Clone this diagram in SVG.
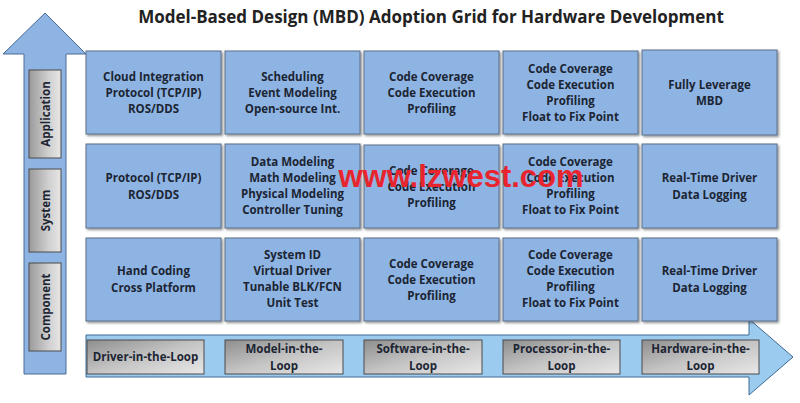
<svg xmlns="http://www.w3.org/2000/svg" width="800" height="403" viewBox="0 0 800 403">
<defs>
<linearGradient id="gh" x1="0" y1="0" x2="1" y2="1">
<stop offset="0" stop-color="#8e8e8e"/>
<stop offset="0.5" stop-color="#c4c4c4"/>
<stop offset="1" stop-color="#e8e8e8"/>
</linearGradient>
<linearGradient id="gv" x1="0" y1="0" x2="1" y2="0">
<stop offset="0" stop-color="#9a9a9a"/>
<stop offset="0.6" stop-color="#cfcfcf"/>
<stop offset="1" stop-color="#e6e6e6"/>
</linearGradient>
<filter id="sh" x="-10%" y="-10%" width="120%" height="130%">
<feDropShadow dx="1.5" dy="1.5" stdDeviation="1" flood-color="#000" flood-opacity="0.45"/>
</filter>
</defs>
<style>
.cell{fill:#8eb4e3;stroke:#5a6f88;stroke-width:1;filter:url(#sh)}
.lab{fill:url(#gh);stroke:#4a4a4a;stroke-width:1}
.vlab{fill:url(#gv);stroke:#4a4a4a;stroke-width:1}
text{font-family:"Open Sans","Liberation Sans",sans-serif;font-weight:700;fill:#1c2533;text-anchor:middle}
.t{font-size:11.5px}
.title{font-size:17px;fill:#222}
.wm{font-family:"Liberation Sans",Arial,sans-serif;font-size:31px;fill:#e8252e}
</style>
<rect width="800" height="403" fill="#fff"/>
<text class="title" x="431" y="23">Model-Based Design (MBD) Adoption Grid for Hardware Development</text>
<g id="connectors">
<polygon id="arrow-up" points="45,13 86,54 66,54 66,374 24,374 24,54 3,54" fill="#8eb4e3" stroke="#4a6b96" stroke-width="1"/>
<polygon id="arrow-right" points="86,335 749,335 749,319 793,357 749,395 749,377 86,377" fill="#9ccbf0" stroke="#3f6a92" stroke-width="1"/>
</g>
<g id="axis-application"><rect class="vlab" x="29" y="70" width="32" height="88"/><text class="t" transform="translate(49.5,114) rotate(-90)">Application</text></g>
<g id="axis-system"><rect class="vlab" x="29" y="169" width="32" height="83"/><text class="t" transform="translate(49.5,210.5) rotate(-90)">System</text></g>
<g id="axis-component"><rect class="vlab" x="29" y="263" width="32" height="88"/><text class="t" transform="translate(49.5,307) rotate(-90)">Component</text></g>

<g id="r1c1"><rect class="cell" x="86" y="51" width="135" height="83"/><text class="t"><tspan x="153.5" y="81">Cloud Integration</tspan><tspan x="153.5" y="97">Protocol (TCP/IP)</tspan><tspan x="153.5" y="113">ROS/DDS</tspan></text></g>
<g id="r1c2"><rect class="cell" x="225" y="51" width="135" height="83"/><text class="t"><tspan x="292.5" y="81">Scheduling</tspan><tspan x="292.5" y="97">Event Modeling</tspan><tspan x="292.5" y="113">Open-source Int.</tspan></text></g>
<g id="r1c3"><rect class="cell" x="364" y="51" width="135" height="83"/><text class="t"><tspan x="431.5" y="81">Code Coverage</tspan><tspan x="431.5" y="97">Code Execution</tspan><tspan x="431.5" y="113">Profiling</tspan></text></g>
<g id="r1c4"><rect class="cell" x="503" y="51" width="135" height="83"/><text class="t"><tspan x="570.5" y="73">Code Coverage</tspan><tspan x="570.5" y="89">Code Execution</tspan><tspan x="570.5" y="105">Profiling</tspan><tspan x="570.5" y="121">Float to Fix Point</tspan></text></g>
<g id="r1c5"><rect class="cell" x="642" y="50" width="135" height="85"/><text class="t"><tspan x="709.5" y="89">Fully Leverage</tspan><tspan x="709.5" y="105">MBD</tspan></text></g>

<g id="r2c1"><rect class="cell" x="86" y="144" width="135" height="84"/><text class="t"><tspan x="153.5" y="182">Protocol (TCP/IP)</tspan><tspan x="153.5" y="199">ROS/DDS</tspan></text></g>
<g id="r2c2"><rect class="cell" x="225" y="144" width="135" height="84"/><text class="t"><tspan x="292.5" y="166">Data Modeling</tspan><tspan x="292.5" y="182">Math Modeling</tspan><tspan x="292.5" y="198">Physical Modeling</tspan><tspan x="292.5" y="214">Controller Tuning</tspan></text></g>
<g id="r2c3"><rect class="cell" x="364" y="145" width="135" height="83"/><text class="t"><tspan x="431.5" y="175">Code Coverage</tspan><tspan x="431.5" y="191">Code Execution</tspan><tspan x="431.5" y="207">Profiling</tspan></text></g>
<g id="r2c4"><rect class="cell" x="503" y="144" width="135" height="84"/><text class="t"><tspan x="570.5" y="166">Code Coverage</tspan><tspan x="570.5" y="182">Code Execution</tspan><tspan x="570.5" y="198">Profiling</tspan><tspan x="570.5" y="214">Float to Fix Point</tspan></text></g>
<g id="r2c5"><rect class="cell" x="642" y="144" width="135" height="84"/><text class="t"><tspan x="709.5" y="182">Real-Time Driver</tspan><tspan x="709.5" y="199">Data Logging</tspan></text></g>

<g id="r3c1"><rect class="cell" x="86" y="238" width="135" height="83"/><text class="t"><tspan x="153.5" y="275">Hand Coding</tspan><tspan x="153.5" y="292">Cross Platform</tspan></text></g>
<g id="r3c2"><rect class="cell" x="225" y="238" width="135" height="83"/><text class="t"><tspan x="292.5" y="259">System ID</tspan><tspan x="292.5" y="275">Virtual Driver</tspan><tspan x="292.5" y="291">Tunable BLK/FCN</tspan><tspan x="292.5" y="307">Unit Test</tspan></text></g>
<g id="r3c3"><rect class="cell" x="364" y="238" width="135" height="83"/><text class="t"><tspan x="431.5" y="268">Code Coverage</tspan><tspan x="431.5" y="284">Code Execution</tspan><tspan x="431.5" y="300">Profiling</tspan></text></g>
<g id="r3c4"><rect class="cell" x="503" y="238" width="135" height="83"/><text class="t"><tspan x="570.5" y="259">Code Coverage</tspan><tspan x="570.5" y="275">Code Execution</tspan><tspan x="570.5" y="291">Profiling</tspan><tspan x="570.5" y="307">Float to Fix Point</tspan></text></g>
<g id="r3c5"><rect class="cell" x="642" y="238" width="135" height="83"/><text class="t"><tspan x="709.5" y="275">Real-Time Driver</tspan><tspan x="709.5" y="292">Data Logging</tspan></text></g>

<g id="stage-dil"><rect class="lab" x="87" y="340" width="117" height="34"/><text class="t" x="145.5" y="361">Driver-in-the-Loop</text></g>
<g id="stage-mil"><rect class="lab" x="225" y="340" width="118" height="34"/><text class="t"><tspan x="284" y="353">Model-in-the-</tspan><tspan x="284" y="370">Loop</tspan></text></g>
<g id="stage-sil"><rect class="lab" x="364" y="340" width="118" height="34"/><text class="t"><tspan x="423" y="353">Software-in-the-</tspan><tspan x="423" y="370">Loop</tspan></text></g>
<g id="stage-pil"><rect class="lab" x="503" y="340" width="117" height="34"/><text class="t"><tspan x="561.5" y="353">Processor-in-the-</tspan><tspan x="561.5" y="370">Loop</tspan></text></g>
<g id="stage-hil"><rect class="lab" x="642" y="340" width="117" height="34"/><text class="t"><tspan x="700.5" y="353">Hardware-in-the-</tspan><tspan x="700.5" y="370">Loop</tspan></text></g>

<text class="wm" x="461" y="187">www.lzwest.com</text>
</svg>
